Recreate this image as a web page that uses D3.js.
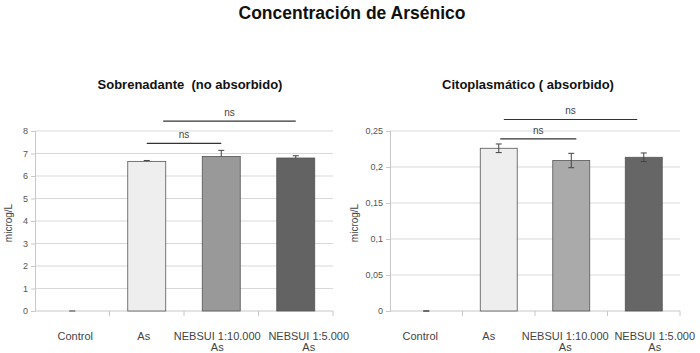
<!DOCTYPE html>
<html lang="es">
<head>
<meta charset="UTF-8" />
<title>Concentración de Arsénico</title>
<script src="https://d3js.org/d3.v7.min.js"></script>
<style>
  body { margin: 0; background: #fff; }
  text { font-family: "Liberation Sans", Arial, sans-serif; }
</style>
</head>
<body>
<script>
  // categorias (cada una con dos lineas)
  const categories = ["Control", "As", "NEBSUI 1:10.000 As", "NEBSUI 1:5.000 As"];
  const categoryLines = [["Control"], ["As"], ["NEBSUI 1:10.000", "As"], ["NEBSUI 1:5.000", "As"]];

  // Sobrenadante (no absorbido)
  const sobreValues = [0, 6.65, 6.87, 6.8];
  const sobreErrors = [0, 0.04, 0.27, 0.1];
  const sobreTicks = [0, 1, 2, 3, 4, 5, 6, 7, 8];

  // Citoplasmatico (absorbido)
  const citoValues = [0, 0.226, 0.209, 0.2135];
  const citoErrors = [0, 0.006, 0.01, 0.006];
  const citoTicks = [0, 0.05, 0.1, 0.15, 0.2, 0.25];

  const barColorsSobre = ["#eeeeee", "#eeeeee", "#999999", "#636363"];
  const barColorsCito = ["#eeeeee", "#eeeeee", "#aaaaaa", "#666666"];

  const width = 700, height = 353;
  const svg = d3.select("body").append("svg")
    .attr("width", width).attr("height", height);

  svg.append("text")
    .attr("x", 352).attr("y", 19)
    .attr("text-anchor", "middle")
    .style("font-size", "17.5px").style("font-weight", "bold")
    .attr("fill", "#111")
    .text("Concentración de Arsénico");

  function panel(opts) {
    const x = d3.scaleBand().domain(categories).range([opts.left, opts.right]);
    const y = d3.scaleLinear().domain([0, opts.max]).range([311, 131]);
    const g = svg.append("g");

    // titulo
    g.append("text")
      .attr("x", opts.titleX).attr("y", 89)
      .attr("text-anchor", "middle")
      .style("font-size", "13px").style("font-weight", "bold")
      .style("white-space", "pre")
      .attr("fill", "#111")
      .text(opts.title);

    // grid
    g.selectAll(".grid").data(opts.ticks.slice(1)).enter().append("line")
      .attr("x1", opts.left).attr("x2", opts.right)
      .attr("y1", d => y(d)).attr("y2", d => y(d))
      .attr("stroke", "#d9d9d9");

    // eje y
    const yAxis = d3.axisLeft(y).tickValues(opts.ticks).tickSize(4).tickPadding(3)
      .tickFormat(d => String(d).replace(".", ","));
    const ya = g.append("g").attr("transform", `translate(${opts.left},0)`).call(yAxis);
    ya.select(".domain").attr("stroke", "#c8c8c8");
    ya.selectAll(".tick line").attr("stroke", "#c8c8c8");
    ya.selectAll(".tick text").attr("fill", "#555").style("font-size", "9px");

    // eje x
    g.append("line")
      .attr("x1", opts.left).attr("x2", opts.right)
      .attr("y1", y(0)).attr("y2", y(0)).attr("stroke", "#c8c8c8");
    g.selectAll(".xtick").data(categories.slice(1).concat([null])).enter().append("line")
      .attr("x1", d => d ? x(d) : opts.right).attr("x2", d => d ? x(d) : opts.right)
      .attr("y1", y(0)).attr("y2", y(0) + 5).attr("stroke", "#c8c8c8");

    const lbl = g.selectAll(".xlab").data(categories).enter().append("text")
      .attr("x", (d, i) => x(d) + x.bandwidth() / 2 + opts.labelShift[i])
      .attr("y", 340)
      .attr("text-anchor", "middle")
      .style("font-size", "11px").attr("fill", "#444");
    lbl.selectAll("tspan").data((d, i) => categoryLines[i]).enter().append("tspan")
      .attr("x", function() { return d3.select(this.parentNode).attr("x"); })
      .attr("dy", (d, i) => i === 0 ? 0 : 11)
      .text(d => d);

    // etiqueta y
    g.append("text")
      .attr("transform", `translate(${opts.labelX},223) rotate(-90)`)
      .attr("text-anchor", "middle")
      .style("font-size", "10px").attr("fill", "#444")
      .text("microg/L");

    // barras
    const bw = x.bandwidth() * 0.51;
    g.selectAll(".bar").data(opts.values.map((v, i) => ({ v, i }))).enter()
      .filter(d => d.v > 0)
      .append("rect")
      .attr("x", d => x(categories[d.i]) + (x.bandwidth() - bw) / 2)
      .attr("y", d => y(d.v))
      .attr("width", bw)
      .attr("height", d => y(0) - y(d.v))
      .attr("fill", d => opts.colors[d.i])
      .attr("stroke", "#555").attr("stroke-width", 0.8);

    // barras de error
    const eb = g.selectAll(".err").data(opts.values).enter().append("g")
      .attr("transform", (d, i) => `translate(${x(categories[i]) + x.bandwidth() / 2},0)`);
    eb.append("line")
      .attr("y1", (d, i) => y(opts.upOnly ? d : d - opts.errors[i]))
      .attr("y2", (d, i) => y(d + opts.errors[i]))
      .attr("stroke", "#444");
    eb.append("line")
      .attr("x1", -3).attr("x2", 3)
      .attr("y1", (d, i) => y(d + opts.errors[i])).attr("y2", (d, i) => y(d + opts.errors[i]))
      .attr("stroke", "#444");
    eb.filter(() => !opts.upOnly).append("line")
      .attr("x1", -3).attr("x2", 3)
      .attr("y1", (d, i) => y(d - opts.errors[i])).attr("y2", (d, i) => y(d - opts.errors[i]))
      .attr("stroke", "#444");

    // significancia
    opts.brackets.forEach(b => {
      const x1 = x(categories[b.from]) + x.bandwidth() * b.fromPos;
      const x2 = x(categories[b.to]) + x.bandwidth() * b.toPos;
      g.append("line")
        .attr("x1", x1).attr("x2", x2)
        .attr("y1", y(b.level)).attr("y2", y(b.level))
        .attr("stroke", "#333").attr("stroke-width", 1.2);
      g.append("text")
        .attr("x", (x1 + x2) / 2).attr("y", y(b.level) - 5)
        .attr("text-anchor", "middle")
        .style("font-size", "10px").attr("fill", "#444")
        .text("ns");
    });
  }

  panel({
    left: 35, right: 333, max: 8, ticks: sobreTicks,
    values: sobreValues, errors: sobreErrors, colors: barColorsSobre, upOnly: true,
    title: "Sobrenadante  (no absorbido)", titleX: 190, labelX: 12,
    labelShift: [3, -3, -4, 13],
    brackets: [
      { from: 1, fromPos: 0.5, to: 2, toPos: 0.5, level: 7.45 },
      { from: 1, fromPos: 0.72, to: 3, toPos: 0.5, level: 8.44 }
    ]
  });

  panel({
    left: 390, right: 680, max: 0.25, ticks: citoTicks,
    values: citoValues, errors: citoErrors, colors: barColorsCito, upOnly: false,
    title: "Citoplasmático ( absorbido)", titleX: 528, labelX: 358,
    labelShift: [-6, -10, -6, 11],
    brackets: [
      { from: 1, fromPos: 0.52, to: 2, toPos: 0.57, level: 0.239 },
      { from: 1, fromPos: 0.57, to: 3, toPos: 0.41, level: 0.266 }
    ]
  });
</script>
</body>
</html>
